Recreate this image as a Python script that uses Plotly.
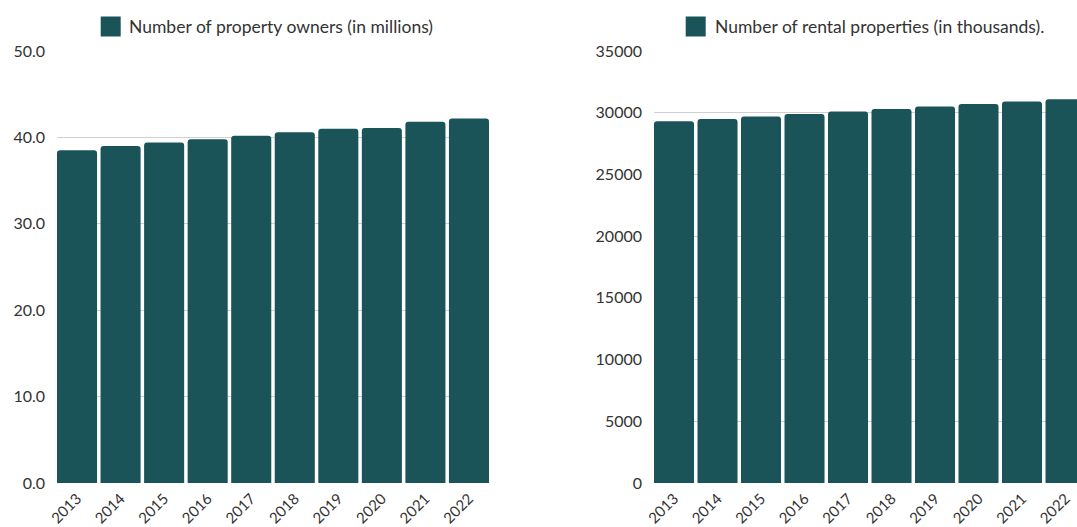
import plotly.graph_objects as go
from plotly.subplots import make_subplots

years = ["2013", "2014", "2015", "2016", "2017", "2018", "2019", "2020", "2021", "2022"]
owners_millions = [38.5, 39.0, 39.4, 39.8, 40.2, 40.6, 41.0, 41.1, 41.8, 42.2]
rentals_thousands = [29300, 29500, 29700, 29900, 30100, 30300, 30500, 30700, 30900, 31100]
owners_label = "Number of property owners (in millions)"
rentals_label = "Number of rental properties (in thousands)."

BAR = "#1a5459"
TEXT = "#333333"
GRID = "#d0d0d0"
FONT = "Lato, 'Open Sans', sans-serif"
W, H = 1077, 527
BARGAP = 0.08

fig = make_subplots(rows=1, cols=2)

fig.add_trace(go.Bar(x=years, y=owners_millions, marker=dict(color=BAR, cornerradius=3, line_width=0),
                     name=owners_label, showlegend=False), row=1, col=1)
fig.add_trace(go.Bar(x=years, y=rentals_thousands, marker=dict(color=BAR, cornerradius=3, line_width=0),
                     name=rentals_label, showlegend=False), row=1, col=2)

axis_font = dict(family=FONT, size=16, color=TEXT)
common_x = dict(type="category", tickangle=-45, tickfont=dict(family=FONT, size=15, color=TEXT),
                showgrid=False, showline=False, ticks="", zeroline=False, automargin=False,
                ticklabelstandoff=3)
fig.update_xaxes(**common_x, domain=[57 / W, 489 / W], range=[-0.5 + BARGAP / 2, 9.5 - BARGAP / 2], row=1, col=1)
fig.update_xaxes(**common_x, domain=[654 / W, 1.0], range=[-0.5 + BARGAP / 2, 9.264], row=1, col=2)

common_y = dict(showgrid=True, gridcolor=GRID, gridwidth=1, zeroline=False, showline=False,
                ticks="", tickfont=axis_font, ticklabelstandoff=11, automargin=False)
fig.update_yaxes(**common_y, range=[0, 50], dtick=10, tickformat=".1f", row=1, col=1)
fig.update_yaxes(**common_y, range=[0, 35000], dtick=5000, tickformat="d", row=1, col=2)

# legend swatches and captions above each panel
def py(pixel):
    return (483 - pixel) / 432

shapes = []
annotations = []
for x_sq, x_txt, label in [(100.7, 127, owners_label), (685.7, 713, rentals_label)]:
    shapes.append(dict(type="rect", xref="paper", yref="paper", x0=x_sq / W, x1=(x_sq + 20) / W,
                       y0=py(36.5), y1=py(16.5), fillcolor=BAR, line_width=0))
    annotations.append(dict(xref="paper", yref="paper", x=x_txt / W, y=py(26.5), xanchor="left",
                            yanchor="middle", text=label, showarrow=False,
                            font=dict(family=FONT, size=17.5, color=TEXT)))

fig.update_layout(
    width=W, height=H,
    margin=dict(l=0, r=0, t=51, b=44),
    bargap=BARGAP,
    plot_bgcolor="white", paper_bgcolor="white",
    shapes=shapes, annotations=annotations,
    showlegend=False,
)

fig.write_html("out.html")
